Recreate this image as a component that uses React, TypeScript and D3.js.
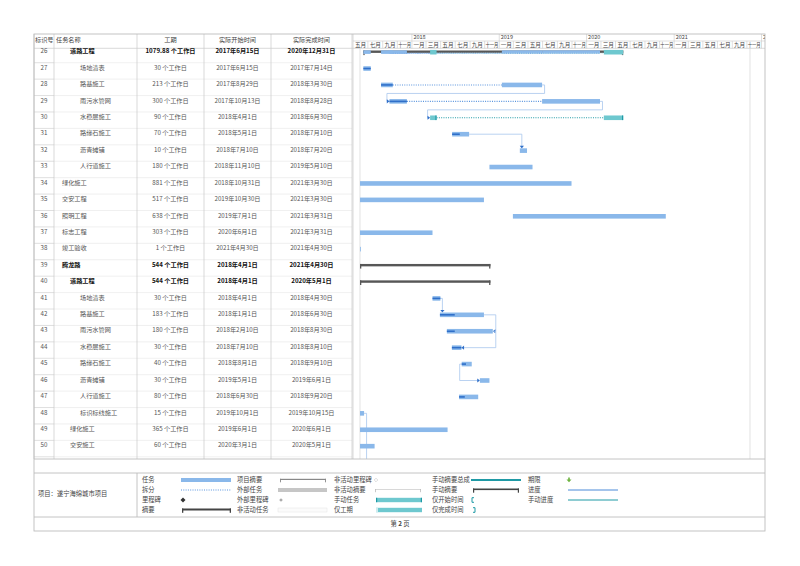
import React from "react";
import * as d3 from "d3";

// ---- table data (rows 26-50 of the printout) ----
const ids = [26, 27, 28, 29, 30, 31, 32, 33, 34, 35, 36, 37, 38, 39, 40, 41, 42, 43, 44, 45, 46, 47, 48, 49, 50];
const names = [
  "道路工程", "场地清表", "路基施工", "雨污水管网", "水稳层施工", "路缘石施工", "沥青摊铺", "人行道施工",
  "绿化施工", "交安工程", "照明工程", "标志工程", "竣工验收", "腾龙路", "道路工程", "场地清表", "路基施工",
  "雨污水管网", "水稳层施工", "路缘石施工", "沥青摊铺", "人行道施工", "标识标线施工", "绿化施工", "交安施工",
];
const levels = [2, 3, 3, 3, 3, 3, 3, 3, 1, 1, 1, 1, 1, 1, 2, 3, 3, 3, 3, 3, 3, 3, 3, 2, 2];
const boldRows = [26, 39, 40];
const durations = [
  "1079.88 个工作日", "30 个工作日", "213 个工作日", "300 个工作日", "90 个工作日", "70 个工作日", "10 个工作日",
  "180 个工作日", "881 个工作日", "517 个工作日", "638 个工作日", "303 个工作日", "1 个工作日", "544 个工作日",
  "544 个工作日", "30 个工作日", "183 个工作日", "180 个工作日", "30 个工作日", "40 个工作日", "30 个工作日",
  "80 个工作日", "15 个工作日", "365 个工作日", "60 个工作日",
];
const startTexts = [
  "2017年6月15日", "2017年6月15日", "2017年8月29日", "2017年10月13日", "2018年4月1日", "2018年5月1日",
  "2018年7月10日", "2018年11月10日", "2018年10月31日", "2019年10月30日", "2019年7月1日", "2020年6月1日",
  "2021年4月30日", "2018年4月1日", "2018年4月1日", "2018年4月1日", "2018年1月1日", "2018年2月10日",
  "2018年7月10日", "2018年8月1日", "2019年5月1日", "2018年6月30日", "2019年10月1日", "2019年6月1日", "2020年3月1日",
];
const finishTexts = [
  "2020年12月31日", "2017年7月14日", "2018年3月30日", "2018年8月28日", "2018年6月30日", "2018年7月10日",
  "2018年7月20日", "2019年5月10日", "2021年3月30日", "2021年3月30日", "2021年3月31日", "2021年3月31日",
  "2021年4月30日", "2021年4月30日", "2020年5月1日", "2018年4月30日", "2018年6月30日", "2018年8月30日",
  "2018年8月10日", "2018年9月10日", "2019年6月1日", "2018年9月20日", "2019年10月15日", "2020年6月1日", "2020年5月1日",
];

// ---- gantt data ----
type Bar = { id: number; start: string; end: string; done?: string };
const taskBars: Bar[] = [
  { id: 27, start: "2017-06-12", end: "2017-07-13", done: "2017-07-13" },
  { id: 28, start: "2017-08-25", end: "2017-10-13", done: "2017-10-13" },
  { id: 28, start: "2019-01-12", end: "2019-06-29" },
  { id: 29, start: "2017-09-29", end: "2017-12-11", done: "2017-12-11" },
  { id: 29, start: "2019-06-29", end: "2020-02-26" },
  { id: 31, start: "2018-06-18", end: "2018-08-28", done: "2018-07-20" },
  { id: 32, start: "2019-03-28", end: "2019-04-27" },
  { id: 33, start: "2018-11-21", end: "2019-05-20" },
  { id: 34, start: "2017-05-29", end: "2019-10-30" },
  { id: 35, start: "2017-05-29", end: "2018-10-29" },
  { id: 36, start: "2019-02-27", end: "2020-11-27" },
  { id: 37, start: "2017-05-29", end: "2018-03-28" },
  { id: 38, start: "2017-05-29", end: "2017-06-01" },
  { id: 41, start: "2018-03-28", end: "2018-04-30", done: "2018-04-30" },
  { id: 42, start: "2018-04-28", end: "2018-10-29", done: "2018-06-29" },
  { id: 43, start: "2018-05-27", end: "2018-12-05", done: "2018-06-29" },
  { id: 44, start: "2018-06-17", end: "2018-07-27", done: "2018-07-27" },
  { id: 45, start: "2018-07-28", end: "2018-09-08", done: "2018-08-15" },
  { id: 46, start: "2018-10-12", end: "2018-11-21" },
  { id: 47, start: "2018-07-17", end: "2018-10-05", done: "2018-08-10" },
  { id: 48, start: "2017-05-29", end: "2017-06-15" },
  { id: 49, start: "2017-05-29", end: "2018-05-30" },
  { id: 50, start: "2017-05-29", end: "2017-07-29" },
];
const manualBars: Bar[] = [
  { id: 30, start: "2018-03-18", end: "2018-04-14" },
  { id: 30, start: "2020-03-13", end: "2020-06-02" },
];
const splits = [
  { id: 28, start: "2017-10-13", end: "2019-01-12", manual: false },
  { id: 29, start: "2017-12-11", end: "2019-06-29", manual: false },
  { id: 30, start: "2018-04-14", end: "2020-03-13", manual: true },
];
const summaries = [
  { id: 26, start: "2017-06-12", end: "2020-06-02" },
  { id: 39, start: "2017-05-29", end: "2018-11-25" },
  { id: 40, start: "2017-05-29", end: "2018-11-25" },
];
const rollupIds = [27, 28, 29, 30];
const links = [
  { from: 28, to: 29, type: "FS" },
  { from: 29, to: 30, type: "FS" },
  { from: 31, to: 32, type: "FS" },
  { from: 41, to: 42, type: "FS" },
  { from: 42, to: 43, type: "FF" },
  { from: 43, to: 44, type: "FF" },
  { from: 45, to: 46, type: "SS" },
  { from: 48, to: 0, type: "OFF" },
];
const yearLabels = ["2018", "2019", "2020", "2021", "2022"];
const monthNames = ["一月", "二月", "三月", "四月", "五月", "六月", "七月", "八月", "九月", "十月", "十一月", "十二月"];

const FONT = "'Noto Sans CJK SC', 'Noto Sans', sans-serif";
const BLUE = "#8ab8ea";
const BLUE_DARK = "#2f6fc9";
const TEAL = "#6ec8cf";
const TEAL_DARK = "#1f9aa5";
const LINK = "#a8c7ee";
const GRID = "#c9c9c9";
const FAINT = "#e6e6e6";

const cols = [34, 54, 137, 204, 271, 352];
const G0 = 353, G1 = 765, TOP = 34, BOTTOM = 531;
const headMid = 41, headBottom = 48.3, tableBottom = 459;
const rowTop0 = 46.3, rowH = 16.42;
const indent: Record<number, number> = { 1: 62, 2: 70, 3: 80 };

const parse = d3.timeParse("%Y-%m-%d");
const x = d3.scaleTime().domain([new Date(2017, 4, 1), new Date(2022, 0, 1)]).range([353.3, 761.5]);
const X = (s: string) => x(parse(s) as Date);

const rowTop = (id: number) => rowTop0 + (id - 26) * rowH;
const yMid = (id: number) => rowTop(id) + 5.8;

function arrow(px: number, py: number, dir: "r" | "l" | "d") {
  const s = 2.6;
  if (dir === "r") return `M${px},${py}L${px - s},${py - s * 0.8}L${px - s},${py + s * 0.8}Z`;
  if (dir === "l") return `M${px},${py}L${px + s},${py - s * 0.8}L${px + s},${py + s * 0.8}Z`;
  return `M${px},${py}L${px - s * 0.8},${py - s}L${px + s * 0.8},${py - s}Z`;
}

export default function App() {
  const allBars = [...taskBars, ...manualBars];
  const barStart = (id: number) => d3.min(allBars.filter(b => b.id === id), b => X(b.start)) as number;
  const barEnd = (id: number) => d3.max(allBars.filter(b => b.id === id), b => X(b.end)) as number;

  const monthTicks = d3.timeMonth.every(2)!.range(new Date(2017, 4, 1), new Date(2022, 2, 1));
  const yearTicks = d3.timeYear.range(new Date(2018, 0, 1), new Date(2022, 1, 1));

  const linkPaths = links.map((l, i) => {
    const yp = yMid(l.from);
    const pe = barEnd(l.from);
    if (l.type === "OFF") {
      return { key: i, d: `M${pe},${yp}H${pe + 2.5}V${tableBottom}`, a: "" };
    }
    const ys = yMid(l.to);
    const ss = barStart(l.to);
    const se = barEnd(l.to);
    if (l.type === "FF") {
      const xr = Math.max(pe, se) + 3;
      return { key: i, d: `M${pe},${yp}H${xr}V${ys}H${se + 2}`, a: arrow(se, ys, "l") };
    }
    if (l.type === "SS") {
      const ps = barStart(l.from);
      const xl = Math.min(ps, ss) - 2;
      return { key: i, d: `M${ps},${yp}H${xl}V${ys}H${ss - 2}`, a: arrow(ss, ys, "r") };
    }
    if (ss > pe - 4) {
      const xd = Math.max(pe, ss) + 2;
      return { key: i, d: `M${pe},${yp}H${xd}V${ys - 4.5}`, a: arrow(xd, ys - 2.2, "d") };
    }
    const yb = yp + 8.5;
    return {
      key: i,
      d: `M${pe},${yp}H${pe + 2.5}V${yb}H${ss - 2.5}V${ys}H${ss - 2}`,
      a: arrow(ss, ys, "r"),
    };
  });

  const summaryShape = (s: { id: number; start: string; end: string }) => {
    const y = yMid(s.id);
    const x0 = X(s.start), x1 = X(s.end);
    return (
      <g key={"s" + s.id}>
        <rect x={x0} y={y - 1.6} width={x1 - x0} height={2.4} fill="#575757" />
        <rect x={x0} y={y - 1.6} width={1.3} height={4.6} fill="#575757" />
        <rect x={x1 - 1.3} y={y - 1.6} width={1.3} height={4.6} fill="#575757" />
      </g>
    );
  };

  const legendRows = [480, 490, 500, 510];
  const legendText = (t: string, lx: number, ly: number) => (
    <text x={lx} y={ly + 2.2} fontSize={6.3} fill="#444">{t}</text>
  );

  return (
    <svg width={800} height={566} style={{ position: "absolute", left: 0, top: 0, background: "#fff" }} fontFamily={FONT}>
      <rect x={0} y={0} width={800} height={566} fill="#fff" />
      <defs>
        <clipPath id="gclip">
          <rect x={G0} y={TOP} width={G1 - G0} height={tableBottom - TOP} />
        </clipPath>
      </defs>

      {/* table row lines */}
      {ids.map(id => (
        <g key={"rl" + id}>
          <line x1={cols[0]} x2={cols[1]} y1={rowTop(id) + rowH} y2={rowTop(id) + rowH} stroke={GRID} strokeWidth={0.6} />
          <line x1={cols[1]} x2={cols[5]} y1={rowTop(id) + rowH} y2={rowTop(id) + rowH} stroke={FAINT} strokeWidth={0.6} />
        </g>
      ))}

      {/* table columns */}
      {cols.map(c => (
        <line key={"c" + c} x1={c} x2={c} y1={TOP} y2={tableBottom} stroke={GRID} strokeWidth={0.7} />
      ))}
      <line x1={G0} x2={G0} y1={TOP} y2={tableBottom} stroke={GRID} strokeWidth={0.7} />
      <line x1={cols[0]} x2={G1} y1={headBottom} y2={headBottom} stroke={GRID} strokeWidth={0.7} />
      <line x1={G0} x2={G1} y1={headMid} y2={headMid} stroke={GRID} strokeWidth={0.6} />

      {/* table header */}
      <g fontSize={6.2} fill="#444">
        <text x={35} y={41.5}>标识号</text>
        <text x={56} y={41.5}>任务名称</text>
        <text x={(cols[2] + cols[3]) / 2} y={41.5} textAnchor="middle">工期</text>
        <text x={(cols[3] + cols[4]) / 2} y={41.5} textAnchor="middle">实际开始时间</text>
        <text x={(cols[4] + cols[5]) / 2} y={41.5} textAnchor="middle">实际完成时间</text>
      </g>

      {/* table body */}
      {ids.map((id, i) => {
        const b = boldRows.includes(id);
        const y = rowTop(id) + 7;
        const fill = b ? "#111" : "#555";
        return (
          <g key={"r" + id} fontSize={6.2} fill={fill} fontWeight={b ? 700 : 400}>
            <text x={(cols[0] + cols[1]) / 2} y={y} textAnchor="middle" fontWeight={400} fill="#555">{id}</text>
            <text x={indent[levels[i]]} y={y}>{names[i]}</text>
            <text x={(cols[2] + cols[3]) / 2} y={y} textAnchor="middle">{durations[i]}</text>
            <text x={(cols[3] + cols[4]) / 2} y={y} textAnchor="middle">{startTexts[i]}</text>
            <text x={(cols[4] + cols[5]) / 2} y={y} textAnchor="middle">{finishTexts[i]}</text>
          </g>
        );
      })}

      <g clipPath="url(#gclip)">
        {/* timescale */}
        {yearTicks.map((t, i) => (
          <g key={"y" + i}>
            <line x1={x(t)} x2={x(t)} y1={TOP} y2={headMid} stroke={GRID} strokeWidth={0.6} />
            <text x={x(t) + 1.5} y={39.2} fontSize={5.5} fill="#444">{yearLabels[i]}</text>
          </g>
        ))}
        {monthTicks.map((t, i) => {
          const nx = x(d3.timeMonth.offset(t, 2));
          const cx = (x(t) + nx) / 2;
          const label = monthNames[t.getMonth()];
          const long = label.length > 2;
          return (
            <g key={"m" + i}>
              {i > 0 && <line x1={x(t)} x2={x(t)} y1={headMid} y2={headBottom} stroke={GRID} strokeWidth={0.6} />}
              {cx < G1 - 2 && (
                <text x={cx} y={47.3} fontSize={5.6} fill="#444" textAnchor="middle"
                  textLength={long ? nx - x(t) - 1.6 : undefined}
                  lengthAdjust={long ? "spacingAndGlyphs" : undefined}>{label}</text>
              )}
            </g>
          );
        })}

        {/* page guide lines */}
        <line x1={360} x2={360} y1={headBottom} y2={tableBottom} stroke="#d6d6d6" strokeWidth={0.7} />
        <line x1={750} x2={750} y1={headBottom} y2={tableBottom} stroke="#d6d6d6" strokeWidth={0.7} />

        {/* links */}
        {linkPaths.map(p => (
          <g key={"l" + p.key}>
            <path d={p.d} fill="none" stroke={LINK} strokeWidth={0.8} />
            {p.a && <path d={p.a} fill={BLUE_DARK} />}
          </g>
        ))}

        {/* summaries */}
        {summaries.map(summaryShape)}
        {/* rolled-up children on row 26 */}
        {taskBars.filter(b => rollupIds.includes(b.id)).map((b, i) => (
          <rect key={"ru" + i} x={X(b.start)} y={yMid(26) - 1.8} width={X(b.end) - X(b.start)} height={3.6} fill={BLUE} />
        ))}
        {splits.filter(s => rollupIds.includes(s.id)).map((s, i) => (
          <line key={"rs" + i} x1={X(s.start)} x2={X(s.end)} y1={yMid(26) + 1.2} y2={yMid(26) + 1.2}
            stroke={s.manual ? "#bfe3e6" : "#7eaee6"} strokeWidth={1} strokeDasharray="1,1.2" />
        ))}
        {manualBars.filter(b => rollupIds.includes(b.id)).map((b, i) => (
          <rect key={"rm" + i} x={X(b.start)} y={yMid(26) - 2.2} width={X(b.end) - X(b.start)} height={4.6} fill={TEAL} />
        ))}

        {/* splits */}
        {splits.map((s, i) => (
          <line key={"sp" + i} x1={X(s.start)} x2={X(s.end)} y1={yMid(s.id)} y2={yMid(s.id)}
            stroke={s.manual ? TEAL_DARK : "#5a94dd"} strokeWidth={1.1} strokeDasharray="1,1.3" />
        ))}

        {/* task bars */}
        {taskBars.map((b, i) => {
          const x0 = X(b.start), x1 = X(b.end);
          return (
            <g key={"t" + i}>
              <rect x={x0} y={yMid(b.id) - 2.3} width={Math.max(0.8, x1 - x0)} height={4.6} fill={BLUE} />
              {b.done && (
                <rect x={x0} y={yMid(b.id) - 0.8} width={X(b.done) - x0} height={1.6} fill={BLUE_DARK} />
              )}
            </g>
          );
        })}

        {/* manual tasks */}
        {manualBars.map((b, i) => {
          const x0 = X(b.start), x1 = X(b.end);
          return (
            <g key={"mt" + i}>
              <rect x={x0} y={yMid(b.id) - 2.3} width={x1 - x0} height={4.6} fill={TEAL} />
              <rect x={x1 - 1.2} y={yMid(b.id) - 2.3} width={1.2} height={4.6} fill={TEAL_DARK} />
            </g>
          );
        })}
      </g>

      {/* page frame */}
      <rect x={34} y={TOP} width={G1 - 34} height={BOTTOM - TOP} fill="none" stroke="#bdbdbd" strokeWidth={0.9} />
      <line x1={34} x2={G1} y1={tableBottom} y2={tableBottom} stroke="#bdbdbd" strokeWidth={0.9} />
      <line x1={34} x2={G1} y1={473} y2={473} stroke="#bdbdbd" strokeWidth={0.9} />
      <line x1={34} x2={G1} y1={517} y2={517} stroke="#bdbdbd" strokeWidth={0.9} />
      <line x1={137} x2={137} y1={473} y2={517} stroke="#bdbdbd" strokeWidth={0.9} />

      {/* legend */}
      <text x={38} y={496} fontSize={6.3} fill="#444">项目：遂宁海绵城市项目</text>

      {legendText("任务", 142, legendRows[0])}
      {legendText("拆分", 142, legendRows[1])}
      {legendText("里程碑", 142, legendRows[2])}
      {legendText("摘要", 142, legendRows[3])}
      <rect x={181} y={legendRows[0] - 2} width={50} height={4} fill={BLUE} />
      <line x1={181} x2={231} y1={legendRows[1]} y2={legendRows[1]} stroke="#5a94dd" strokeWidth={1.1} strokeDasharray="1,1.3" />
      <path d={`M183,${legendRows[2] - 2.5}L185.5,${legendRows[2]}L183,${legendRows[2] + 2.5}L180.5,${legendRows[2]}Z`} fill="#333" />
      <rect x={182} y={legendRows[3] - 1.5} width={49} height={2} fill="#444" />
      <rect x={182} y={legendRows[3] - 1.5} width={1.3} height={4.3} fill="#444" />
      <rect x={229.7} y={legendRows[3] - 1.5} width={1.3} height={4.3} fill="#444" />

      {legendText("项目摘要", 237, legendRows[0])}
      {legendText("外部任务", 237, legendRows[1])}
      {legendText("外部里程碑", 237, legendRows[2])}
      {legendText("非活动任务", 237, legendRows[3])}
      <rect x={280} y={legendRows[0] - 1.2} width={46} height={1.2} fill="#888" />
      <rect x={280} y={legendRows[0] - 1.2} width={0.9} height={3.5} fill="#888" />
      <rect x={325.1} y={legendRows[0] - 1.2} width={0.9} height={3.5} fill="#888" />
      <rect x={278} y={legendRows[1] - 2} width={49} height={4} fill="#c6c6c6" />
      <path d={`M281,${legendRows[2] - 1.8}L282.8,${legendRows[2]}L281,${legendRows[2] + 1.8}L279.2,${legendRows[2]}Z`} fill="#aaa" />
      <rect x={278} y={legendRows[3] - 2} width={49} height={4} fill="#fbfbfb" stroke="#e4e4e4" strokeWidth={0.5} />

      {legendText("非活动里程碑", 334, legendRows[0])}
      {legendText("非活动摘要", 334, legendRows[1])}
      {legendText("手动任务", 334, legendRows[2])}
      {legendText("仅工期", 334, legendRows[3])}
      <path d={`M376,${legendRows[0] - 1.8}L377.8,${legendRows[0]}L376,${legendRows[0] + 1.8}L374.2,${legendRows[0]}Z`} fill="#fff" stroke="#bbb" strokeWidth={0.5} />
      <rect x={375} y={legendRows[1] - 1} width={46} height={1} fill="#d8d8d8" />
      <rect x={375} y={legendRows[1] - 1} width={0.8} height={3.2} fill="#bbb" />
      <rect x={420.2} y={legendRows[1] - 1} width={0.8} height={3.2} fill="#bbb" />
      <rect x={376} y={legendRows[2] - 2.2} width={46} height={4.4} fill={TEAL} />
      <rect x={376} y={legendRows[2] - 2.2} width={1.2} height={4.4} fill={TEAL_DARK} />
      <rect x={420.8} y={legendRows[2] - 2.2} width={1.2} height={4.4} fill={TEAL_DARK} />
      <rect x={376} y={legendRows[3] - 2.2} width={46} height={4.4} fill={TEAL} />
      <rect x={376} y={legendRows[3] - 2.2} width={2} height={4.4} fill="#cdebee" />

      {legendText("手动摘要总成", 432, legendRows[0])}
      {legendText("手动摘要", 432, legendRows[1])}
      {legendText("仅开始时间", 432, legendRows[2])}
      {legendText("仅完成时间", 432, legendRows[3])}
      <rect x={471} y={legendRows[0] - 1} width={50} height={2} fill={TEAL_DARK} />
      <rect x={473} y={legendRows[1] - 1.5} width={46} height={1.6} fill="#444" />
      <rect x={473} y={legendRows[1] - 1.5} width={1.2} height={4.2} fill="#444" />
      <rect x={517.8} y={legendRows[1] - 1.5} width={1.2} height={4.2} fill="#444" />
      <path d={`M474,${legendRows[2] - 2.3}H472V${legendRows[2] + 2.3}H474`} fill="none" stroke={TEAL_DARK} strokeWidth={1} />
      <path d={`M473,${legendRows[3] - 2.3}H475V${legendRows[3] + 2.3}H473`} fill="none" stroke={TEAL_DARK} strokeWidth={1} />

      {legendText("期限", 528, legendRows[0])}
      {legendText("进度", 528, legendRows[1])}
      {legendText("手动进度", 528, legendRows[2])}
      <path d={`M568.2,${legendRows[0] - 2.5}H569.8V${legendRows[0] - 0.6}H571.5L569,${legendRows[0] + 2.3}L566.5,${legendRows[0] - 0.6}H568.2Z`} fill="#6db33f" />
      <line x1={568} x2={618} y1={legendRows[1]} y2={legendRows[1]} stroke="#4a8ad8" strokeWidth={1} />
      <line x1={568} x2={618} y1={legendRows[2]} y2={legendRows[2]} stroke={TEAL_DARK} strokeWidth={1} />

      {/* footer */}
      <text x={400} y={526.2} fontSize={6.3} fill="#444" textAnchor="middle">
        第 <tspan fontWeight={700}>2</tspan> 页
      </text>
    </svg>
  );
}
